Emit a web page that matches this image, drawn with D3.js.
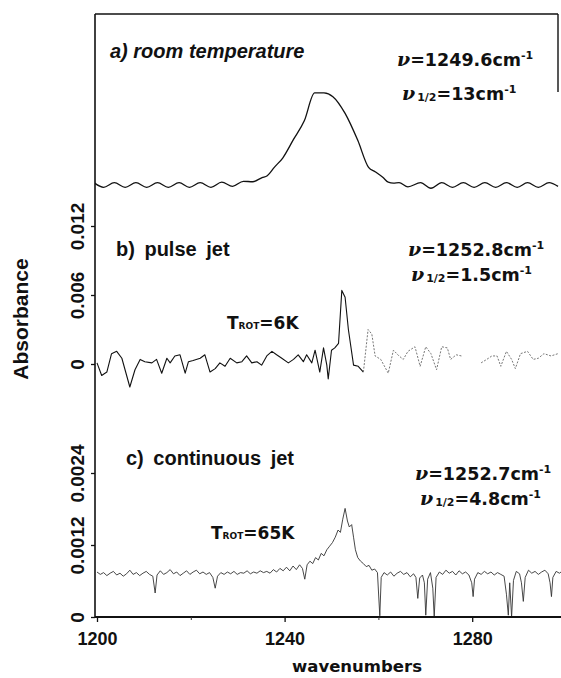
<!DOCTYPE html>
<html>
<head>
<meta charset="utf-8">
<script src="https://cdn.jsdelivr.net/npm/d3@7"></script>
<style>
  body { margin: 0; background: #fff; }
  svg { display: block; }
</style>
</head>
<body>
<script>
// Three stacked IR spectra sharing one wavenumber axis

// ---- data (wavenumber, absorbance) ----
// a) room temperature, arbitrary units (baseline 0, band top 1)
const roomTemp = [
  [1199.5, 0.02], [1201.4, -0.025], [1203.7, 0.025], [1206, -0.025], [1208.3, 0.025],
  [1210.6, -0.025], [1212.9, 0.025], [1215.2, -0.025], [1217.5, 0.025], [1219.7, -0.025],
  [1222, 0.025], [1224.3, -0.025], [1226.6, 0.03], [1228.9, -0.015], [1231.2, 0.04],
  [1233.2, 0.035], [1235.2, 0.08], [1236.3, 0.1], [1237.8, 0.19], [1239.6, 0.29],
  [1241.9, 0.49], [1244.2, 0.69], [1246.4, 0.99], [1248.4, 0.99], [1250.3, 0.95],
  [1252.9, 0.77], [1255.6, 0.48], [1257.9, 0.19], [1259.4, 0.14], [1261, 0.08],
  [1262.1, 0.03], [1263.2, 0.02], [1264.4, 0.025], [1266.3, -0.02], [1269, 0.025],
  [1271.2, -0.035], [1273.5, 0.025], [1275.8, -0.025], [1278.1, 0.025], [1280.4, -0.025],
  [1282.7, 0.025], [1285, -0.025], [1287.3, 0.025], [1289.6, -0.025], [1291.8, 0.025],
  [1294.1, -0.025], [1296.4, 0.025], [1298.3, -0.015]
];

// b) pulse jet; null marks a break in the recording
const pulseJet = [
  [1200, 0.0001], [1201, -0.0010], [1202.1, -0.0007], [1203.1, 0.0009], [1204.2, 0.0011],
  [1205.3, 0.0005], [1207, -0.0020], [1208.1, -0.0005], [1209.2, 0.0004], [1210.2, 0.0002],
  [1211.7, 0.0001], [1212.7, 0.0004], [1213.8, -0.0008], [1214.9, 0.0005], [1215.6, 0.0001],
  [1216.6, 0.0007], [1217.7, 0.0008], [1218.8, -0.0008], [1219.5, 0.0002], [1220.5, 0.0003],
  [1222, 0.0005], [1223, 0.0008], [1224.1, -0.0007], [1225.2, -0.0004], [1226.2, 0.0001],
  [1227.3, -0.0002], [1228.4, 0.0005], [1229.8, 0.0001], [1230.9, 0.0002], [1231.9, 0.0007],
  [1233, 0.0001], [1234.1, 0.0002], [1235.1, -0.0001], [1236.2, 0.0007], [1237.3, 0.0011],
  [1238.3, 0.0008], [1239.4, 0.0005], [1240.8, 0.0001], [1241.9, 0.0004], [1242.9, 0.0008],
  [1244, 0.0002], [1244.7, 0.0008], [1245.8, 0.0001], [1246.5, 0.0012], [1247.5, -0.0007],
  [1248.3, 0.0014], [1249, -0.0001], [1249.3, -0.0013], [1250, 0.0012], [1250.7, 0.0014],
  [1251.5, 0.0018], [1252.2, 0.0064], [1252.9, 0.0058], [1253.6, 0.0030], [1254.7, -0.0001],
  [1255.7, -0.0002], [1256.8, -0.0007], [1257.8, 0.0030], [1258.6, 0.0026], [1259.3, 0.0007],
  [1260.5, 0.0004], [1262.1, -0.0008], [1263.2, 0.0012], [1264.4, 0.0007], [1265.3, 0.0004],
  [1266.3, 0.0011], [1267.8, 0.0015], [1268.9, -0.0002], [1270.1, 0.0015], [1271.2, 0.0009],
  [1272.4, -0.0005], [1273.5, 0.0015], [1274.7, 0.0014], [1275.4, 0.0004], [1276.6, 0.0008],
  [1277.7, 0.0007], [1279, null], [1281.9, 0.0001], [1283.1, 0.0004], [1284.2, 0.0007],
  [1285.3, 0.0007], [1286.1, -0.0002], [1287.3, 0.0011], [1288.4, 0.0004], [1289.2, -0.0004],
  [1290.3, 0.0009], [1291.8, 0.0011], [1293, 0.0004], [1294.1, 0.0005], [1295.3, 0.0009],
  [1296.8, 0.0007], [1298.3, 0.0009]
];
const pulseFaintFrom = 1256.8; // pen trace gets faint beyond this

// c) continuous jet
const contJet = [
  [1200, 0.00075], [1200.7, 0.00071], [1201.4, 0.00074], [1202.1, 0.00069], [1202.8, 0.00073],
  [1203.5, 0.00076], [1204.2, 0.00070], [1204.9, 0.00073], [1205.6, 0.00068], [1206.3, 0.00072],
  [1207, 0.00078], [1207.7, 0.00071], [1208.4, 0.00074], [1209.1, 0.00069], [1209.8, 0.00073],
  [1210.5, 0.00076], [1211.2, 0.00071], [1211.9, 0.00068], [1212.4, 0.00040], [1212.8, 0.00070],
  [1213.5, 0.00077], [1214.2, 0.00071], [1214.9, 0.00074], [1215.6, 0.00079], [1216.3, 0.00072],
  [1217, 0.00075], [1217.7, 0.00069], [1218.4, 0.00073], [1219.1, 0.00077], [1219.8, 0.00071],
  [1220.5, 0.00075], [1221.2, 0.00078], [1221.9, 0.00072], [1222.6, 0.00075], [1223.3, 0.00071],
  [1224, 0.00074], [1224.7, 0.00066], [1225.2, 0.00048], [1225.7, 0.00068], [1226.4, 0.00074],
  [1227.1, 0.00071], [1227.8, 0.00075], [1228.5, 0.00072], [1229.2, 0.00076], [1229.9, 0.00071],
  [1230.6, 0.00074], [1231.3, 0.00073], [1232, 0.00077], [1232.7, 0.00072], [1233.4, 0.00075],
  [1234.1, 0.00073], [1234.8, 0.00077], [1235.5, 0.00074], [1236.2, 0.00076], [1236.9, 0.00073],
  [1237.6, 0.00079], [1238.3, 0.00075], [1239, 0.00081], [1239.7, 0.00077], [1240.4, 0.00083],
  [1241.1, 0.00077], [1241.8, 0.00085], [1242.5, 0.00079], [1243.2, 0.00087], [1243.8, 0.00081],
  [1244.3, 0.00063], [1244.8, 0.00087], [1245.4, 0.00093], [1246, 0.00089], [1246.6, 0.00099],
  [1247.2, 0.00095], [1247.8, 0.00106], [1248.4, 0.00102], [1249, 0.00112], [1249.6, 0.00118],
  [1250.2, 0.00124], [1250.8, 0.00133], [1251.4, 0.00145], [1251.9, 0.00141], [1252.4, 0.00163],
  [1252.9, 0.00181], [1253.4, 0.00160], [1253.8, 0.00150], [1254.3, 0.00154], [1254.7, 0.00133],
  [1255.1, 0.00112], [1255.6, 0.00099], [1256.2, 0.00093], [1256.8, 0.00089], [1257.4, 0.00084],
  [1258, 0.00086], [1258.6, 0.00078], [1259.2, 0.00080], [1259.8, 0.00074], [1260.1, 0.00030],
  [1260.3, 0.00002], [1260.6, 0.00066], [1261.2, 0.00074], [1261.9, 0.00070], [1262.6, 0.00075],
  [1263.3, 0.00068], [1264, 0.00073], [1264.7, 0.00076], [1265.4, 0.00071], [1266.1, 0.00074],
  [1266.8, 0.00067], [1267.5, 0.00072], [1268, 0.00066], [1268.4, 0.00031], [1268.8, 0.00065],
  [1269.4, 0.00070], [1269.8, 0.00057], [1270.1, 0.00003], [1270.5, 0.00063], [1271.1, 0.00074],
  [1271.6, 0.00048], [1271.9, 0], [1272.3, 0.00066], [1273, 0.00075], [1273.7, 0.00071],
  [1274.4, 0.00078], [1275.1, 0.00073], [1275.8, 0.00076], [1276.5, 0.00070], [1277.2, 0.00077],
  [1277.9, 0.00072], [1278.6, 0.00075], [1279.3, 0.00070], [1279.9, 0.00057], [1280.2, 0.00034],
  [1280.5, 0.00063], [1281.2, 0.00074], [1281.9, 0.00071], [1282.6, 0.00076], [1283.3, 0.00072],
  [1284, 0.00075], [1284.7, 0.00070], [1285.4, 0.00074], [1286.1, 0.00071], [1286.8, 0.00068],
  [1287.3, 0.00038], [1287.7, 0.00003], [1288, 0.00057], [1288.4, 0], [1288.8, 0.00061],
  [1289.4, 0.00076], [1290.1, 0.00072], [1290.5, 0.00057], [1290.9, 0.00026], [1291.3, 0.00066],
  [1292, 0.00078], [1292.7, 0.00073], [1293.4, 0.00076], [1294.1, 0.00071], [1294.8, 0.00075],
  [1295.5, 0.00078], [1296.2, 0.00072], [1296.6, 0.00057], [1296.9, 0.00034], [1297.2, 0.00066],
  [1297.9, 0.00076], [1298.6, 0.00073], [1299.3, 0.00077]
];

// ---- tick values and annotation text ----
const xTicks = [1200, 1240, 1280];
const xMinorTicks = [1220, 1260];
const bTicks = [0, 0.006, 0.012];
const cTicks = [0, 0.0012, 0.0024];
const panelNames = ["a) room temperature", "b) pulse jet", "c) continuous jet"];
const bandCentres = ["1249.6", "1252.8", "1252.7"];
const halfWidths = ["13", "1.5", "4.8"];
const rotTemps = [null, "6K", "65K"];

(function () {
    const W = 561, H = 678;
    const AXIS_X = 95, TOP = 14, BOTTOM = 617, RIGHT = 558;
    const SANS = "'Liberation Sans', Arial, Helvetica, sans-serif";
    const WIDE = "'DejaVu Sans', Verdana, sans-serif";

    const svg = d3.select("body").append("svg")
        .attr("width", W).attr("height", H);

    // Shared x, one y per panel
    const x = d3.scaleLinear().domain([1200, 1300]).range([97, 566]);
    const yA = d3.scaleLinear().domain([0, 1]).range([185, 92]);
    const yB = d3.scaleLinear().domain([0, 0.012]).range([364, 226]);
    const yC = d3.scaleLinear().domain([0, 0.0024]).range([617, 473]);

    svg.append("clipPath").attr("id", "plot")
        .append("rect").attr("x", AXIS_X).attr("y", TOP)
        .attr("width", W - AXIS_X).attr("height", BOTTOM - TOP + 1);

    const lineFor = (y, curve) => d3.line()
        .defined(d => d[1] != null)
        .x(d => x(d[0])).y(d => y(d[1]))
        .curve(curve || d3.curveLinear);

    const traces = svg.append("g").attr("clip-path", "url(#plot)").attr("fill", "none");

    // a) smooth recorder trace
    traces.append("path")
        .attr("d", lineFor(yA, d3.curveMonotoneX)(roomTemp))
        .attr("stroke", "#111").attr("stroke-width", 1.3);

    // b) solid part, then the faint dotted remainder
    traces.append("path")
        .attr("d", lineFor(yB)(pulseJet.filter(d => d[0] <= pulseFaintFrom)))
        .attr("stroke", "#111").attr("stroke-width", 1.1).attr("stroke-linejoin", "round");
    traces.append("path")
        .attr("d", lineFor(yB)(pulseJet.filter(d => d[0] >= pulseFaintFrom)))
        .attr("stroke", "#777").attr("stroke-width", 1)
        .attr("stroke-dasharray", "2,1.5");

    // c) fine noisy trace
    traces.append("path")
        .attr("d", lineFor(yC)(contJet))
        .attr("stroke", "#333").attr("stroke-width", 0.9).attr("stroke-linejoin", "round");

    // ---- frame ----
    const frame = svg.append("g").attr("stroke", "#111").attr("fill", "none");
    frame.append("line").attr("x1", AXIS_X).attr("x2", AXIS_X).attr("y1", TOP).attr("y2", BOTTOM + 1)
        .attr("stroke-width", 1.6);
    frame.append("line").attr("x1", AXIS_X).attr("x2", RIGHT).attr("y1", TOP).attr("y2", TOP)
        .attr("stroke-width", 1.4);
    frame.append("line").attr("x1", RIGHT).attr("x2", RIGHT).attr("y1", TOP).attr("y2", 92)
        .attr("stroke-width", 1.4);
    frame.append("line").attr("x1", AXIS_X).attr("x2", W).attr("y1", BOTTOM).attr("y2", BOTTOM)
        .attr("stroke-width", 2);

    // ---- y axes for b and c, labels turned upright ----
    function yAxis(scale, values) {
        const g = svg.append("g")
            .attr("transform", `translate(${AXIS_X},0)`)
            .call(d3.axisLeft(scale).tickValues(values).tickSize(4).tickFormat(d => String(d)));
        g.select(".domain").remove();
        g.selectAll(".tick line").attr("stroke", "#111").attr("stroke-width", 1.3);
        g.selectAll(".tick text")
            .attr("x", null).attr("dy", "0.36em")
            .attr("text-anchor", "middle")
            .attr("transform", "translate(-18,0) rotate(-90)")
            .attr("fill", "#111")
            .style("font-family", SANS).style("font-size", "19px").style("font-weight", "bold");
    }
    yAxis(yB, bTicks);
    yAxis(yC, cTicks);

    // ---- x axis ----
    const xg = svg.append("g")
        .attr("transform", `translate(0,${BOTTOM})`)
        .call(d3.axisBottom(x).tickValues(xTicks).tickSize(5).tickPadding(10).tickFormat(d3.format("d")));
    xg.select(".domain").remove();
    xg.selectAll(".tick line").attr("stroke", "#111").attr("stroke-width", 1.3);
    xg.selectAll(".tick text").attr("fill", "#111")
        .style("font-family", SANS).style("font-size", "18px").style("font-weight", "bold");

    const xm = svg.append("g")
        .attr("transform", `translate(0,${BOTTOM})`)
        .call(d3.axisBottom(x).tickValues(xMinorTicks).tickSize(3).tickFormat(""));
    xm.select(".domain").remove();
    xm.selectAll(".tick line").attr("stroke", "#333");

    // Axis titles
    svg.append("text")
        .attr("transform", "translate(28,319) rotate(-90)")
        .attr("text-anchor", "middle")
        .style("font-family", SANS).style("font-size", "21px").style("font-weight", "bold")
        .attr("fill", "#111")
        .text("Absorbance");

    svg.append("text")
        .attr("x", 357).attr("y", 672)
        .attr("text-anchor", "middle")
        .style("font-family", WIDE).style("font-size", "16.5px").style("font-weight", "bold")
        .attr("fill", "#111")
        .text("wavenumbers");

    // ---- panel annotations ----
    const namePos = [[110, 58], [116, 256], [126, 465]];
    const nuPos = [[397, 66, 402, 100], [408, 256, 411, 281], [415, 480, 420, 505]];
    const tPos = [null, [227, 329], [211, 539]];

    const notes = svg.append("g")
        .attr("fill", "#111")
        .style("font-family", WIDE).style("font-weight", "bold");

    panelNames.forEach((name, i) => {
        notes.append("text")
            .attr("x", namePos[i][0]).attr("y", namePos[i][1])
            .style("font-family", SANS)
            .style("font-size", "20px")
            .style("word-spacing", i === 0 ? "0px" : "4px")
            .style("font-style", i === 0 ? "italic" : "normal")
            .text(name);

        // nu = centre
        const t1 = notes.append("text")
            .attr("x", nuPos[i][0]).attr("y", nuPos[i][1])
            .style("font-size", "17.5px");
        t1.append("tspan").style("font-family", "'DejaVu Serif', serif")
            .style("font-style", "italic").style("font-size", "19px").text("ν");
        t1.append("tspan").text("=" + bandCentres[i] + "cm");
        t1.append("tspan").attr("dy", -7).style("font-size", "11px").text("-1");

        // nu 1/2 = half width
        const t2 = notes.append("text")
            .attr("x", nuPos[i][2]).attr("y", nuPos[i][3])
            .style("font-size", "17.5px");
        t2.append("tspan").style("font-family", "'DejaVu Serif', serif")
            .style("font-style", "italic").style("font-size", "19px").text("ν");
        t2.append("tspan").attr("dx", 2).attr("dy", 1).style("font-size", "11px").text("1/2");
        t2.append("tspan").attr("dy", -1).text("=" + halfWidths[i] + "cm");
        t2.append("tspan").attr("dy", -7).style("font-size", "11px").text("-1");

        // rotational temperature
        if (rotTemps[i]) {
            const t3 = notes.append("text")
                .attr("x", tPos[i][0]).attr("y", tPos[i][1])
                .style("font-size", "17px");
            t3.append("tspan").text("T");
            t3.append("tspan").style("font-size", "9px").text("ROT");
            t3.append("tspan").text("=" + rotTemps[i]);
        }
    });
})();
</script>
</body>
</html>
